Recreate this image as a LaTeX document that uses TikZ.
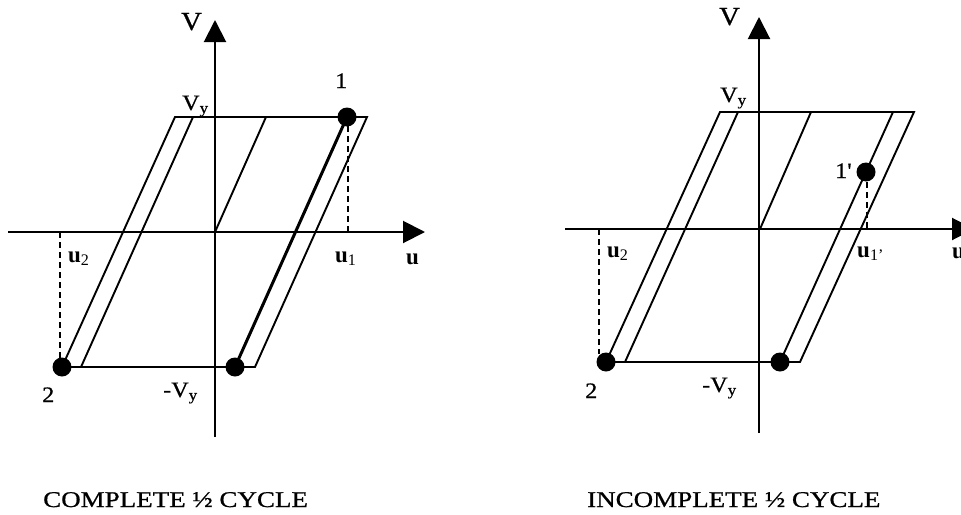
\documentclass[tikz,border=0pt]{standalone}
\usepackage{fontspec}
\setmainfont{Liberation Serif}
\newfontfamily\labelfont[FakeStretch=1.1,FakeBold=0.8]{Liberation Serif}
\newfontfamily\capfont[FakeStretch=1.2,FakeBold=0.8]{Liberation Serif}
\usetikzlibrary{arrows.meta}
\tikzset{
  axis/.style={line width=2pt, -{Triangle[width=22pt,length=22pt]}},
  loopline/.style={line width=1.9pt},
  boldline/.style={line width=3pt},
  guide/.style={dash pattern=on 6pt off 4pt, line width=1.5pt},
  dot/.style={circle, fill=black, inner sep=0pt, minimum size=19pt},
  lbl/.style={font=\labelfont\fontsize{22}{24}\selectfont, anchor=base west, inner sep=0pt},
  biglbl/.style={font=\labelfont\fontsize{26}{28}\selectfont, anchor=base west, inner sep=0pt},
  ulbl/.style={font=\fontsize{23}{26}\selectfont\bfseries, anchor=base west, inner sep=0pt},
  caption/.style={font=\capfont\fontsize{22.5}{25}\selectfont, anchor=base west, inner sep=0pt},
}
\begin{document}
\begin{tikzpicture}[x=1pt,y=-1pt]
\useasboundingbox (0,0) rectangle (961,514);
\fill[white] (0,0) rectangle (961,514);
\clip (0,0) rectangle (961,514);

% ---------------- left diagram ----------------
\coordinate (Lux0) at (8,232);
\coordinate (Lux1) at (425,232);
\coordinate (Lvy0) at (215,437);
\coordinate (Lvy1) at (215,20);
\coordinate (LO) at (215,232);
\coordinate (LTa) at (175,117);
\coordinate (LTb) at (193,117);
\coordinate (LTc) at (266,117);
\coordinate (LTd) at (347,117);
\coordinate (LTe) at (367,117);
\coordinate (LBa) at (62,367);
\coordinate (LBb) at (81,367);
\coordinate (LBd) at (235,367);
\coordinate (LBe) at (255,367);
\coordinate (Lu1) at (348,232);
\coordinate (Lu2) at (60,232);

\draw[axis] (Lux0) -- (Lux1);
\draw[axis] (Lvy0) -- (Lvy1);
\draw[loopline] (LTa) -- (LTe) -- (LBe) -- (LBa) -- cycle;
\draw[loopline] (LTb) -- (LBb);
\draw[loopline] (LO) -- (LTc);
\draw[boldline] (LTd) -- (LBd);

\node[dot] (L1) at (LTd) {};
\node[dot] (L2) at (LBa) {};
\node[dot] (L3) at (LBd) {};
\coordinate (L1low) at (348,126);
\coordinate (L2up) at (60,358);
\draw[guide] (L1low) -- (Lu1);
\draw[guide] (Lu2) -- (L2up);

\node[biglbl] (LV) at (181,30) {V};
\node[lbl] (LVy) at (182,110) {V\textsubscript{y}};
\node[lbl] (L1t) at (335,88) {1};
\node[ulbl] (Lu1t) at (335,262) {u\textsubscript{\mdseries 1}};
\node[ulbl] (Lut) at (406,264) {u};
\node[ulbl] (Lu2t) at (68,262) {u\textsubscript{\mdseries 2}};
\node[lbl] (L2t) at (42,402) {2};
\node[lbl] (LmVy) at (163,397) {-V\textsubscript{y}};
\node[caption] (Lcap) at (43,507) {COMPLETE ½ CYCLE};

% ---------------- right diagram ----------------
\coordinate (Rux0) at (565,229);
\coordinate (Rux1) at (974,229);
\coordinate (Rvy0) at (759,433);
\coordinate (Rvy1) at (759,17);
\coordinate (RO) at (760,229);
\coordinate (RTa) at (720,112);
\coordinate (RTb) at (738,112);
\coordinate (RTc) at (811,112);
\coordinate (RTd) at (893,112);
\coordinate (RTe) at (914,112);
\coordinate (RBa) at (606,362);
\coordinate (RBb) at (625,362);
\coordinate (RBd) at (780,362);
\coordinate (RBe) at (800,362);
\coordinate (RP1) at (866,172);
\coordinate (Ru1) at (867,229);
\coordinate (Ru2) at (599,229);

\draw[axis] (Rux0) -- (Rux1);
\draw[axis] (Rvy0) -- (Rvy1);
\draw[loopline] (RTa) -- (RTe) -- (RBe) -- (RBa) -- cycle;
\draw[loopline] (RTb) -- (RBb);
\draw[loopline] (RO) -- (RTc);
\draw[loopline] (RTd) -- (RBd);

\node[dot] (R1) at (RP1) {};
\node[dot] (R2) at (RBa) {};
\node[dot] (R3) at (RBd) {};
\coordinate (R1low) at (867,182);
\coordinate (R2up) at (599,354);
\draw[guide] (R1low) -- (Ru1);
\draw[guide] (Ru2) -- (R2up);

\node[biglbl] (RV) at (719,25) {V};
\node[lbl] (RVy) at (720,102) {V\textsubscript{y}};
\node[lbl] (R1t) at (835,178) {1'};
\node[ulbl] (Ru1t) at (857,257) {u\textsubscript{\mdseries 1'}};
\node[ulbl] (Rut) at (952,258) {u};
\node[ulbl] (Ru2t) at (607,257) {u\textsubscript{\mdseries 2}};
\node[lbl] (R2t) at (585,398) {2};
\node[lbl] (RmVy) at (702,392) {-V\textsubscript{y}};
\node[caption] (Rcap) at (587,507) {INCOMPLETE ½ CYCLE};
\end{tikzpicture}
\end{document}
